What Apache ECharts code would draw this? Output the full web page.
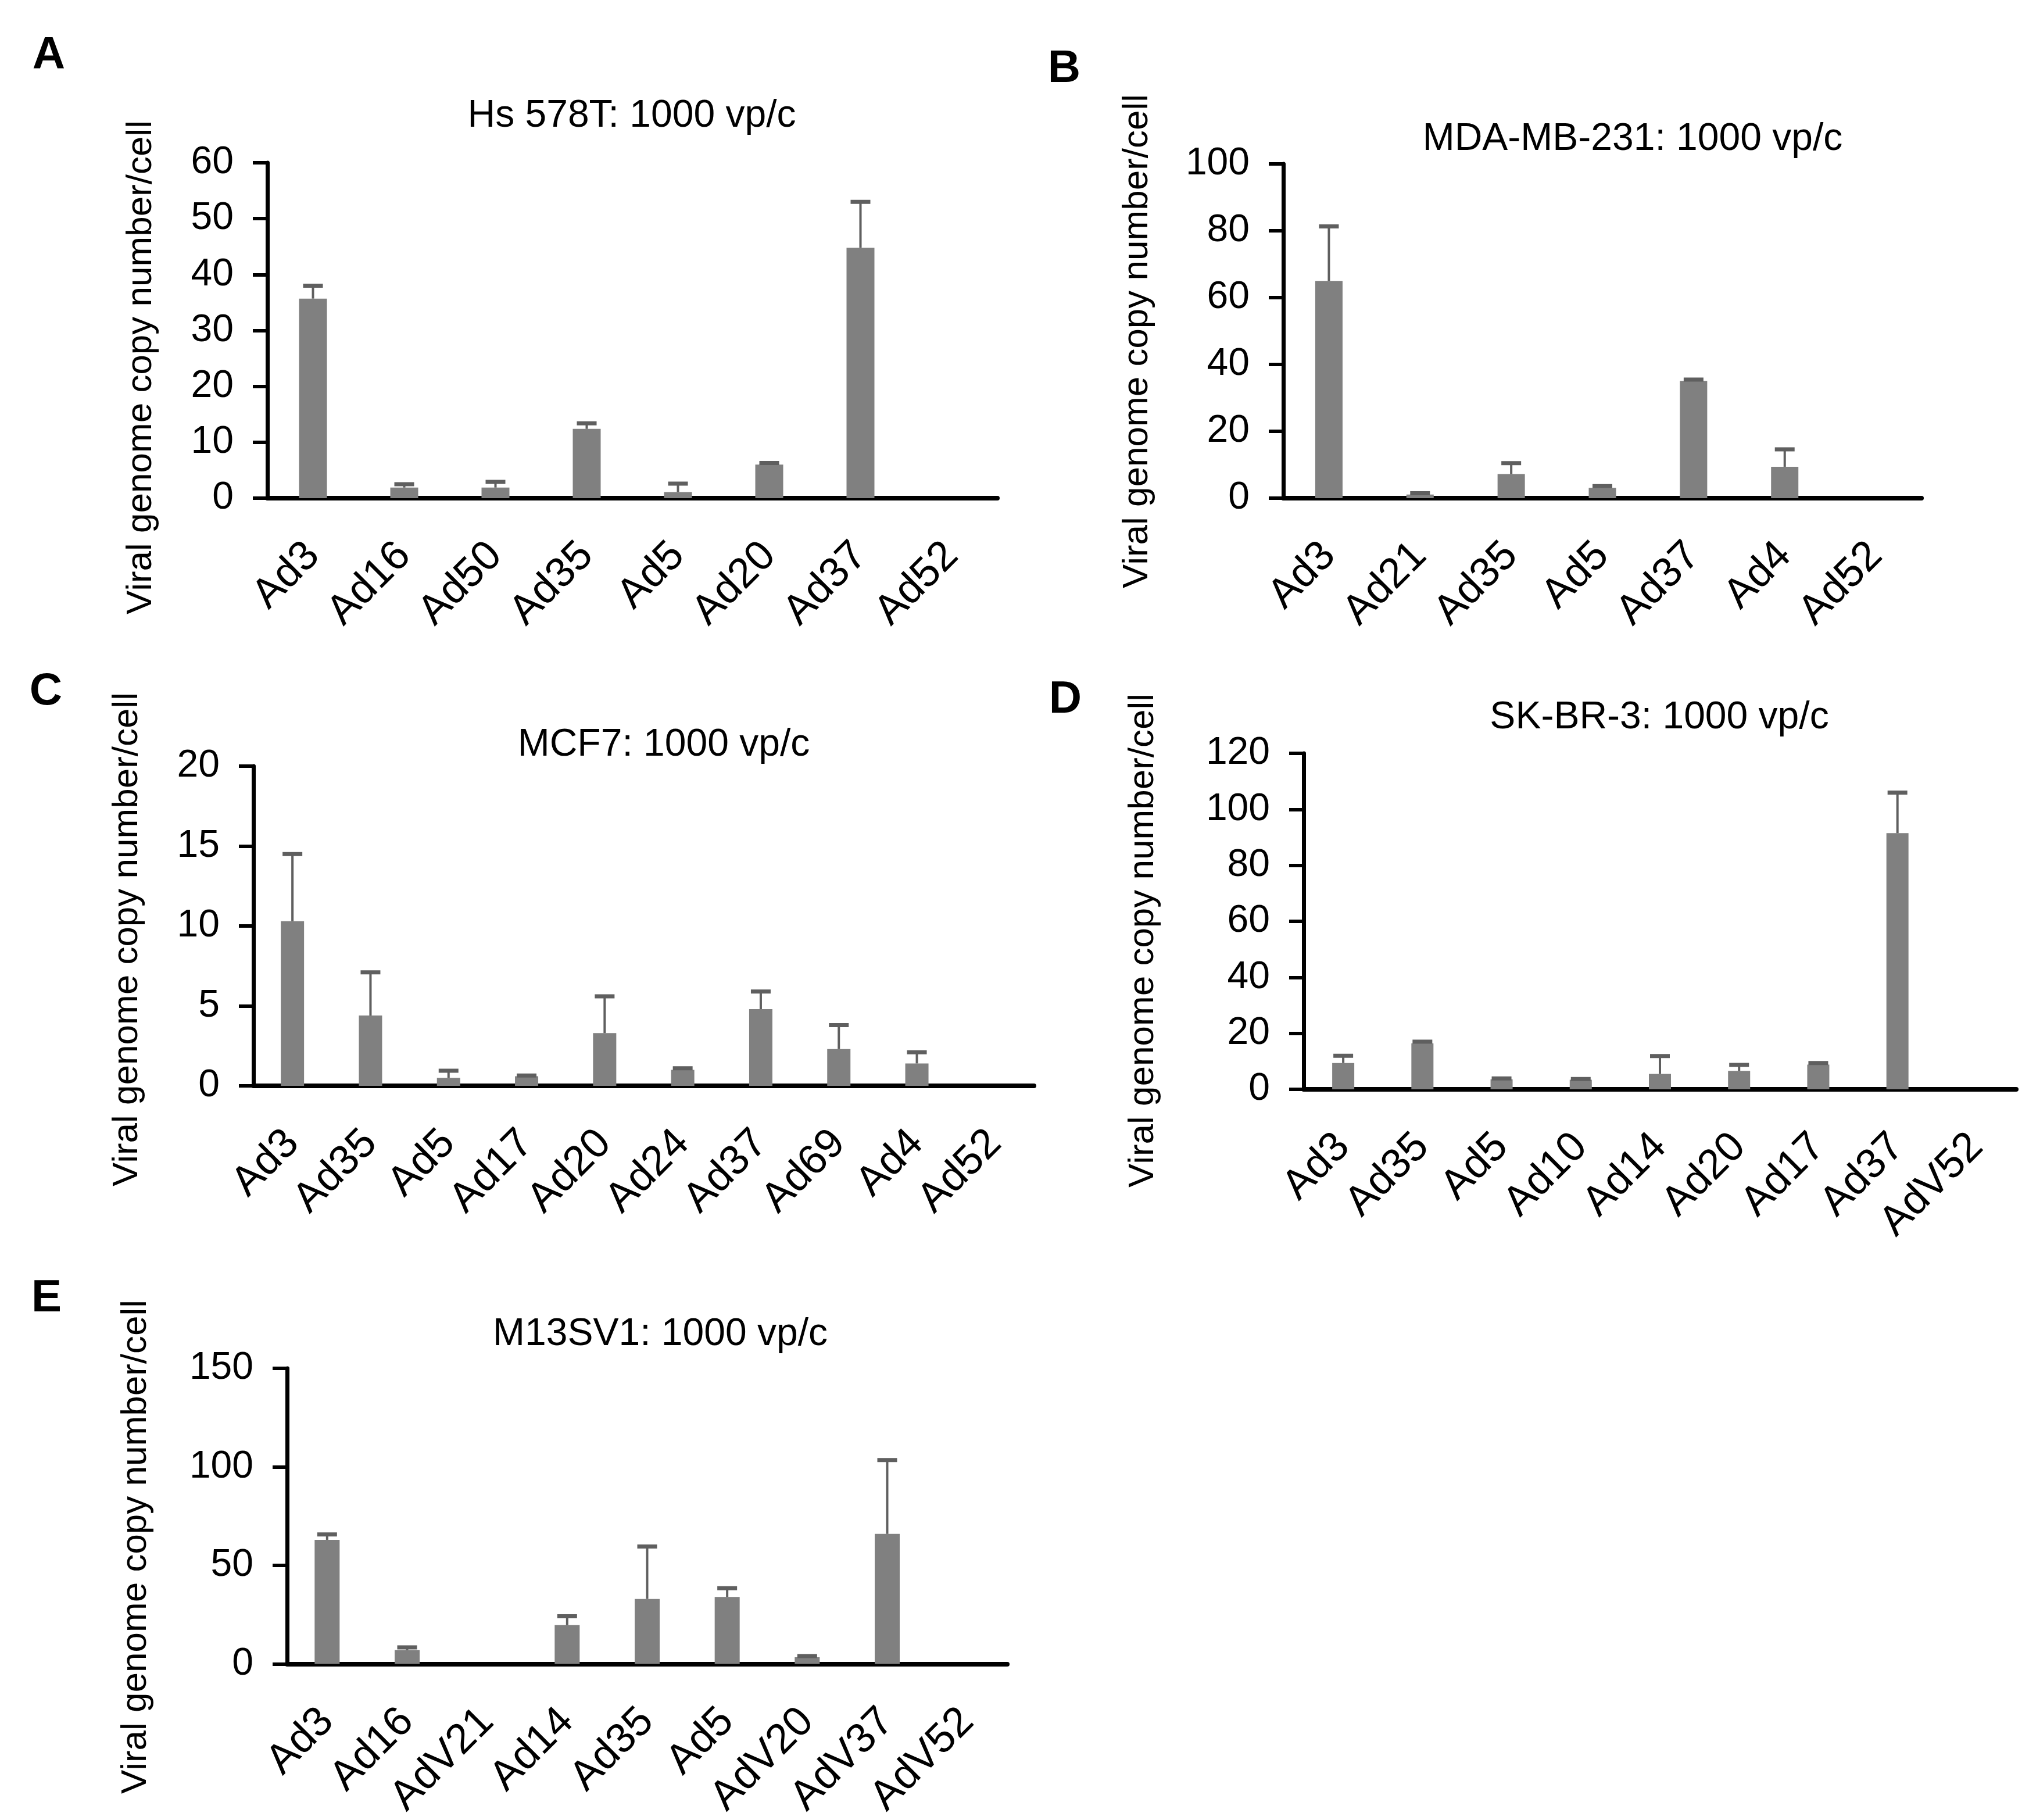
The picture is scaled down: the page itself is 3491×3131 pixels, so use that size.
<!DOCTYPE html>
<html>
<head>
<meta charset="utf-8">
<script src="https://cdn.jsdelivr.net/npm/echarts@6/dist/echarts.min.js"></script>
<style>
html, body { margin: 0; padding: 0; background: #fff; }
#chart { width: 3491px; height: 3131px; }
</style>
</head>
<body>
<div id="chart"></div>
<script>
// data (bar = mean, err = upper error)
var catsA = ['Ad3', 'Ad16', 'Ad50', 'Ad35', 'Ad5', 'Ad20', 'Ad37', 'Ad52'];
var valsA = [35.7, 1.9, 1.9, 12.4, 1.1, 6.0, 44.8, 0];
var errsA = [2.3, 0.6, 1.0, 1.0, 1.5, 0.3, 8.2, 0];

var catsB = ['Ad3', 'Ad21', 'Ad35', 'Ad5', 'Ad37', 'Ad4', 'Ad52'];
var valsB = [65, 1.1, 7.2, 3.1, 35.1, 9.4, 0];
var errsB = [16.3, 0.4, 3.3, 0.5, 0.4, 5.2, 0];

var catsC = ['Ad3', 'Ad35', 'Ad5', 'Ad17', 'Ad20', 'Ad24', 'Ad37', 'Ad69', 'Ad4', 'Ad52'];
var valsC = [10.3, 4.4, 0.5, 0.6, 3.3, 1.0, 4.8, 2.3, 1.4, 0];
var errsC = [4.2, 2.7, 0.45, 0.05, 2.3, 0.1, 1.1, 1.5, 0.7, 0];

var catsD = ['Ad3', 'Ad35', 'Ad5', 'Ad10', 'Ad14', 'Ad20', 'Ad17', 'Ad37', 'AdV52'];
var valsD = [9.4, 16.4, 3.6, 3.4, 5.5, 6.6, 8.8, 91.5, 0];
var errsD = [2.6, 0.6, 0.3, 0.3, 6.4, 2.1, 0.6, 14.5, 0];

var catsE = ['Ad3', 'Ad16', 'AdV21', 'Ad14', 'Ad35', 'Ad5', 'AdV20', 'AdV37', 'AdV52'];
var valsE = [63, 7, 0, 19.7, 33, 34, 3.4, 66, 0];
var errsE = [2.7, 1.4, 0, 4.5, 26.6, 4.4, 0.6, 37.5, 0];

var titles = ['Hs 578T: 1000 vp/c', 'MDA-MB-231: 1000 vp/c', 'MCF7: 1000 vp/c', 'SK-BR-3: 1000 vp/c', 'M13SV1: 1000 vp/c'];
var letters = ['A', 'B', 'C', 'D', 'E'];
var yMax = [60, 100, 20, 120, 150];
var yStep = [10, 20, 5, 20, 50];
var yTitle = 'Viral genome copy number/cell';

var FONT = 'Liberation Sans';
var BAR = '#808080';
var ERR = '#5f5f5f';

// layout of each panel (pixels)
var panels = [
	{ cats: catsA, vals: valsA, errs: errsA, left: 460, top: 280, right: 1716, bottom: 857, barW: 48,
	  title: [1087, 200], letter: [84, 96], ytitle: [243, 632] },
	{ cats: catsB, vals: valsB, errs: errsB, left: 2208, top: 282, right: 3306, bottom: 857, barW: 47,
	  title: [2809, 240], letter: [1831, 119], ytitle: [1957, 587] },
	{ cats: catsC, vals: valsC, errs: errsC, left: 436, top: 1318, right: 1779, bottom: 1868, barW: 40,
	  title: [1142, 1282], letter: [79, 1190], ytitle: [219, 1616] },
	{ cats: catsD, vals: valsD, errs: errsD, left: 2243, top: 1296, right: 3469, bottom: 1874, barW: 38,
	  title: [2855, 1235], letter: [1833, 1204], ytitle: [1967, 1618] },
	{ cats: catsE, vals: valsE, errs: errsE, left: 494, top: 2354, right: 1733, bottom: 2864, barW: 43,
	  title: [1136, 2296], letter: [80, 2234], ytitle: [234, 2661] }
];

function renderErr(params, api) {
	var x = api.value(0), v = api.value(1), e = api.value(2);
	if (!e) return null;
	var p0 = api.coord([x, v]);
	var p1 = api.coord([x, v + e]);
	var half = 17;
	return {
		type: 'group',
		children: [
			{ type: 'line', shape: { x1: p0[0], y1: p0[1], x2: p1[0], y2: p1[1] },
			  style: { stroke: ERR, lineWidth: 4 } },
			{ type: 'line', shape: { x1: p1[0] - half, y1: p1[1], x2: p1[0] + half, y2: p1[1] },
			  style: { stroke: ERR, lineWidth: 7 } }
		]
	};
}

var grids = [], xAxes = [], yAxes = [], series = [], graphics = [];

for (var i = 0; i < panels.length; i++) {
	var p = panels[i];
	grids.push({
		left: p.left, top: p.top,
		width: p.right - p.left, height: p.bottom - p.top,
		containLabel: false
	});
	xAxes.push({
		type: 'category', gridIndex: i, data: p.cats,
		axisLine: { lineStyle: { color: '#000', width: 8 } },
		axisTick: { show: false },
		axisLabel: { rotate: 45, margin: 88, color: '#000', fontFamily: FONT, fontSize: 72, interval: 0 }
	});
	yAxes.push({
		type: 'value', gridIndex: i, min: 0, max: yMax[i], interval: yStep[i],
		splitLine: { show: false },
		axisLine: { show: true, lineStyle: { color: '#000', width: 7 } },
		axisTick: { show: true, length: 25, lineStyle: { color: '#000', width: 6 } },
		axisLabel: { margin: 58, color: '#000', fontFamily: FONT, fontSize: 66 }
	});
	series.push({
		type: 'bar', xAxisIndex: i, yAxisIndex: i,
		data: p.vals, barWidth: p.barW,
		itemStyle: { color: BAR },
		silent: true
	});
	var errData = [];
	for (var j = 0; j < p.vals.length; j++) {
		errData.push([j, p.vals[j], p.errs[j]]);
	}
	series.push({
		type: 'custom', xAxisIndex: i, yAxisIndex: i,
		renderItem: renderErr, data: errData,
		encode: { x: 0, y: 1 }, z: 3, silent: true
	});

	graphics.push({
		type: 'text', x: p.title[0], y: p.title[1],
		style: { text: titles[i], fill: '#000', font: '66px "' + FONT + '"',
		         textAlign: 'center', textVerticalAlign: 'middle' }
	});
	graphics.push({
		type: 'text', x: p.letter[0], y: p.letter[1],
		style: { text: letters[i], fill: '#000', font: 'bold 78px "' + FONT + '"',
		         textAlign: 'center', textVerticalAlign: 'middle' }
	});
	graphics.push({
		type: 'text', x: p.ytitle[0], y: p.ytitle[1], rotation: Math.PI / 2,
		style: { text: yTitle, fill: '#000', font: '62px "' + FONT + '"',
		         textAlign: 'center', textVerticalAlign: 'middle' }
	});
}

var myChart = echarts.init(document.getElementById('chart'), null, { renderer: 'canvas' });
myChart.setOption({
	animation: false,
	backgroundColor: '#fff',
	grid: grids,
	xAxis: xAxes,
	yAxis: yAxes,
	series: series,
	graphic: graphics
});
</script>
</body>
</html>
